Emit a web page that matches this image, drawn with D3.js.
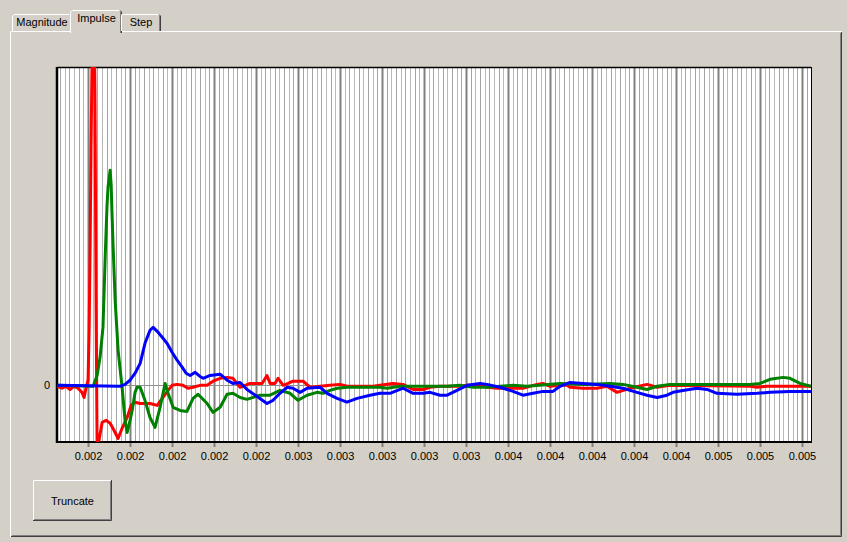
<!DOCTYPE html>
<html>
<head>
<meta charset="utf-8">
<script src="https://cdnjs.cloudflare.com/ajax/libs/d3/7.8.5/d3.min.js"></script>
<style>
body { margin: 0; background: #d4d0c8; }
svg { display: block; font-family: "Liberation Sans", Arial, sans-serif; font-size: 11px; }
</style>
</head>
<body>
<script>
// time in ms, values in arbitrary units
var tabNames = ["Magnitude", "Impulse", "Step"];
var tickTimes = [1.6, 1.8, 2.0, 2.2, 2.4, 2.6, 2.8, 3.0, 3.2, 3.4, 3.6, 3.8, 4.0, 4.2, 4.4, 4.6, 4.8, 5.0];
var tickLabels = ["0.002", "0.002", "0.002", "0.002", "0.002", "0.003", "0.003", "0.003", "0.003", "0.003",
    "0.004", "0.004", "0.004", "0.004", "0.004", "0.005", "0.005", "0.005"];

var redT = [1.452, 1.476, 1.495, 1.514, 1.533, 1.552, 1.571, 1.581, 1.590, 1.600, 1.605, 1.610, 1.614, 1.619, 1.624, 1.629, 1.633, 1.638, 1.643,
    1.652, 1.667, 1.686, 1.705, 1.724, 1.743, 1.762, 1.786, 1.805, 1.824, 1.848, 1.895, 1.929, 1.957, 1.981, 2.000, 2.024, 2.052, 2.076, 2.100,
    2.133, 2.167, 2.195, 2.229, 2.262, 2.290, 2.324, 2.348, 2.371, 2.405, 2.429, 2.452, 2.467, 2.490, 2.505, 2.529, 2.552, 2.576, 2.624, 2.657,
    2.752, 2.800, 2.833, 2.957, 2.990, 3.052, 3.100, 3.148, 3.195, 3.229, 3.276, 3.371, 3.405, 3.467, 3.500, 3.548, 3.610, 3.671, 3.738, 3.767,
    3.800, 3.848, 3.881, 3.895, 3.957, 4.024, 4.071, 4.119, 4.181, 4.262, 4.310, 4.371, 4.752, 4.786, 4.833, 5.043];
var redV = [-0.003, -0.009, -0.003, -0.013, -0.003, -0.009, -0.022, -0.038, -0.009, 0.016, 0.173, 0.456, 0.739, 1.02, 1.21, 1.21, 0.896, 0.267, -0.189,
    -0.173, -0.116, -0.110, -0.119, -0.142, -0.167, -0.135, -0.101, -0.063, -0.053, -0.057, -0.057, -0.063, -0.038, -0.016, 0, 0.003, 0, -0.009, -0.006,
    0, 0, 0.013, 0.022, 0.025, 0.022, -0.006, 0, 0.006, 0.006, 0.006, 0.031, 0.006, 0.006, 0.022, 0, 0.006, 0.013, 0.013, -0.006,
    0, 0.003, -0.003, -0.003, 0, 0.006, 0.003, -0.013, -0.013, -0.006, -0.003, -0.003, 0, 0, -0.006, -0.009, -0.009, -0.009, 0.003, 0.006,
    -0.003, 0, 0, -0.006, -0.009, -0.009, -0.003, -0.022, -0.009, 0.003, -0.006, 0, -0.003, -0.006, -0.003, -0.003];

var greenT = [1.452, 1.624, 1.643, 1.657, 1.671, 1.681, 1.690, 1.695, 1.705, 1.710, 1.714, 1.719, 1.729, 1.743, 1.762, 1.776, 1.786, 1.800,
    1.810, 1.824, 1.833, 1.848, 1.871, 1.895, 1.919, 1.943, 1.967, 1.981, 2.005, 2.038, 2.071, 2.100, 2.124, 2.167, 2.195, 2.229, 2.262, 2.290,
    2.324, 2.357, 2.386, 2.419, 2.467, 2.514, 2.562, 2.600, 2.643, 2.690, 2.719, 2.752, 2.786, 2.833, 2.990, 3.024, 3.086, 3.310, 3.371, 3.433,
    3.500, 3.562, 3.624, 3.690, 3.752, 3.848, 3.957, 4.086, 4.148, 4.214, 4.262, 4.310, 4.371, 4.752, 4.800, 4.848, 4.910, 4.943, 4.991, 5.043];
var greenV = [0, -0.003, 0.031, 0.088, 0.182, 0.393, 0.560, 0.623, 0.676, 0.629, 0.541, 0.440, 0.267, 0.110, -0.006, -0.110, -0.148, -0.110,
    -0.079, -0.022, -0.006, -0.006, -0.047, -0.101, -0.132, -0.069, 0.006, -0.025, -0.069, -0.079, -0.082, -0.041, -0.028, -0.057, -0.085, -0.069, -0.028, -0.025,
    -0.038, -0.044, -0.038, -0.031, -0.031, -0.016, -0.025, -0.047, -0.031, -0.022, -0.025, -0.016, -0.009, -0.006, -0.006, -0.009, -0.003, -0.003, 0, -0.006,
    -0.006, -0.003, 0, -0.003, 0, 0.006, 0.003, 0.006, 0.003, -0.006, -0.013, -0.003, 0.003, 0.003, 0.006, 0.019, 0.025, 0.022, 0.006, -0.003];

var blueT = [1.452, 1.752, 1.776, 1.800, 1.824, 1.848, 1.871, 1.895, 1.910, 1.933, 1.957, 1.976, 2.000, 2.024, 2.048, 2.067, 2.086, 2.110,
    2.133, 2.148, 2.181, 2.229, 2.262, 2.290, 2.324, 2.357, 2.405, 2.452, 2.481, 2.514, 2.548, 2.576, 2.610, 2.643, 2.705, 2.738, 2.786, 2.833,
    2.881, 2.943, 2.990, 3.038, 3.100, 3.148, 3.195, 3.229, 3.276, 3.310, 3.357, 3.405, 3.467, 3.500, 3.562, 3.624, 3.671, 3.719, 3.767, 3.814,
    3.848, 3.895, 3.957, 4.024, 4.086, 4.148, 4.214, 4.262, 4.310, 4.357, 4.386, 4.433, 4.500, 4.548, 4.595, 4.690, 4.786, 4.848, 4.943, 5.043];
var blueV = [0, -0.003, 0.003, 0.016, 0.038, 0.069, 0.132, 0.173, 0.182, 0.167, 0.148, 0.132, 0.104, 0.079, 0.057, 0.038, 0.031, 0.041,
    0.028, 0.022, 0.031, 0.035, 0.016, 0.006, 0.009, -0.013, -0.035, -0.057, -0.047, -0.025, -0.006, -0.009, -0.022, -0.009, -0.006, -0.025, -0.041, -0.053,
    -0.041, -0.031, -0.025, -0.025, -0.009, -0.025, -0.025, -0.022, -0.031, -0.031, -0.016, 0, 0.006, 0.003, -0.006, -0.019, -0.031, -0.025, -0.019, -0.019,
    -0.003, 0.009, 0.006, 0.003, -0.003, -0.009, -0.022, -0.031, -0.038, -0.031, -0.022, -0.016, -0.009, -0.013, -0.025, -0.028, -0.025, -0.022, -0.019, -0.019];

var W = 847, H = 542;
var svg = d3.select("body").append("svg").attr("width", W).attr("height", H);

// tab page
var page = { x: 10, y: 31, w: 832, h: 506 };
svg.append("rect").attr("x", 0).attr("y", 0).attr("width", W).attr("height", H).attr("fill", "#d4d0c8");
svg.append("path").attr("d", "M" + (page.x + 0.5) + "," + (page.y + page.h) + "V" + (page.y + 0.5) + "H" + (page.x + page.w))
    .attr("stroke", "#ffffff").attr("fill", "none");
svg.append("path").attr("d", "M" + (page.x + 1) + "," + (page.y + page.h - 0.5) + "H" + (page.x + page.w - 0.5) + "V" + (page.y + 1))
    .attr("stroke", "#404040").attr("fill", "none");
svg.append("path").attr("d", "M" + (page.x + 2) + "," + (page.y + page.h - 1.5) + "H" + (page.x + page.w - 1.5) + "V" + (page.y + 2))
    .attr("stroke", "#808080").attr("fill", "none");

// tabs
var tabs = [{ x0: 12, x1: 72, top: 14 }, { x0: 72, x1: 121, top: 10 }, { x0: 121, x1: 161, top: 14 }];
tabs.forEach(function(t, i) {
    var sel = i === 1;
    var bottom = sel ? page.y + 2 : page.y;
    var x0 = sel ? t.x0 - 2 : t.x0, x1 = sel ? t.x1 + 1 : t.x1;
    svg.append("rect").attr("x", x0).attr("y", t.top).attr("width", x1 - x0).attr("height", bottom - t.top)
        .attr("fill", "#d4d0c8");
    svg.append("path").attr("d", "M" + (x0 + 0.5) + "," + bottom + "V" + (t.top + 2) + "L" + (x0 + 2.5) + "," + (t.top + 0.5) + "H" + (x1 - 2))
        .attr("stroke", "#ffffff").attr("fill", "none");
    svg.append("path").attr("d", "M" + (x1 - 2) + "," + (t.top + 0.5) + "L" + (x1 - 0.5) + "," + (t.top + 2) + "V" + bottom)
        .attr("stroke", "#404040").attr("fill", "none");
    svg.append("path").attr("d", "M" + (x1 - 1.5) + "," + (t.top + 2) + "V" + bottom)
        .attr("stroke", "#808080").attr("fill", "none");
    svg.append("text").attr("x", (t.x0 + t.x1) / 2).attr("y", sel ? 22 : 26).attr("text-anchor", "middle")
        .attr("fill", "#000").text(tabNames[i]);
});

// plot
var plot = { left: 57, top: 67, right: 811, bottom: 442 };
var x = d3.scaleLinear().domain([1.452, 5.043]).range([plot.left, plot.right]);
var y = d3.scaleLinear().domain([-0.178, 1.0]).range([plot.bottom, plot.top]);

svg.append("rect").attr("x", plot.left).attr("y", plot.top).attr("width", plot.right - plot.left)
    .attr("height", plot.bottom - plot.top).attr("fill", "#ffffff");

svg.append("clipPath").attr("id", "clip").append("rect")
    .attr("x", plot.left).attr("y", plot.top).attr("width", plot.right - plot.left).attr("height", plot.bottom - plot.top);

// minor grid, 9 per major step
var minorStep = 0.2 / 9;
var minor = d3.range(-6, 160).map(function(i) { return 1.6 + i * minorStep; })
    .filter(function(t) { return x(t) > plot.left + 1 && x(t) < plot.right - 1; });
svg.append("g").selectAll("line").data(minor).enter().append("line")
    .attr("x1", function(d) { return Math.round(x(d)) + 0.5; })
    .attr("x2", function(d) { return Math.round(x(d)) + 0.5; })
    .attr("y1", plot.top).attr("y2", plot.bottom)
    .attr("stroke", function(d, i) { return i % 2 ? "#b8b8b8" : "#a4a4a4"; })
    .attr("stroke-width", 1);

svg.append("g").selectAll("line").data(tickTimes).enter().append("line")
    .attr("x1", function(d) { return Math.round(x(d)) + 0.5; })
    .attr("x2", function(d) { return Math.round(x(d)) + 0.5; })
    .attr("y1", plot.top).attr("y2", plot.bottom + 5)
    .attr("stroke", "#808080").attr("stroke-width", 2);

// zero line
svg.append("line").attr("x1", plot.left).attr("x2", plot.right)
    .attr("y1", Math.round(y(0)) + 0.5).attr("y2", Math.round(y(0)) + 0.5)
    .attr("stroke", "#909090");

// frame
svg.append("line").attr("x1", plot.left).attr("x2", plot.right).attr("y1", plot.top + 0.5).attr("y2", plot.top + 0.5)
    .attr("stroke", "#000").attr("stroke-width", 1.5);
svg.append("line").attr("x1", plot.right + 0.5).attr("x2", plot.right + 0.5).attr("y1", plot.top).attr("y2", plot.bottom)
    .attr("stroke", "#000");
svg.append("line").attr("x1", plot.left).attr("x2", plot.left).attr("y1", plot.top).attr("y2", plot.bottom + 1)
    .attr("stroke", "#000").attr("stroke-width", 2.5);
svg.append("line").attr("x1", plot.left).attr("x2", plot.right + 1).attr("y1", plot.bottom).attr("y2", plot.bottom)
    .attr("stroke", "#000").attr("stroke-width", 2);

// series
var line = d3.line().x(function(d) { return x(d[0]); }).y(function(d) { return y(d[1]); });
var series = [
    { t: redT, v: redV, color: "#ff0000" },
    { t: greenT, v: greenV, color: "#008000" },
    { t: blueT, v: blueV, color: "#0000ff" }
];
var lines = svg.append("g").attr("clip-path", "url(#clip)");
series.forEach(function(s) {
    lines.append("path")
        .datum(d3.zip(s.t, s.v))
        .attr("d", line)
        .attr("fill", "none")
        .attr("stroke", s.color)
        .attr("stroke-width", 3)
        .attr("stroke-linejoin", "round");
});

// axis labels
var xAxis = d3.axisBottom(x).tickValues(tickTimes).tickSize(0).tickPadding(10)
    .tickFormat(function(d, i) { return tickLabels[i]; });
var gx = svg.append("g").attr("transform", "translate(0," + plot.bottom + ")").call(xAxis);
gx.select(".domain").remove();
gx.selectAll("text").attr("fill", "#000").style("font-family", "Liberation Sans, Arial, sans-serif").style("font-size", "11px");

svg.append("text").attr("x", 50).attr("y", y(0) + 4).attr("text-anchor", "end").attr("fill", "#000").text("0");

// button
var btn = { x: 33, y: 480, w: 79, h: 41 };
svg.append("rect").attr("x", btn.x).attr("y", btn.y).attr("width", btn.w).attr("height", btn.h).attr("fill", "#d4d0c8");
svg.append("path").attr("d", "M" + (btn.x + 0.5) + "," + (btn.y + btn.h) + "V" + (btn.y + 0.5) + "H" + (btn.x + btn.w))
    .attr("stroke", "#ffffff").attr("fill", "none");
svg.append("path").attr("d", "M" + (btn.x) + "," + (btn.y + btn.h - 0.5) + "H" + (btn.x + btn.w - 0.5) + "V" + btn.y)
    .attr("stroke", "#404040").attr("fill", "none");
svg.append("path").attr("d", "M" + (btn.x + 1) + "," + (btn.y + btn.h - 1.5) + "H" + (btn.x + btn.w - 1.5) + "V" + (btn.y + 1))
    .attr("stroke", "#808080").attr("fill", "none");
svg.append("text").attr("x", btn.x + btn.w / 2).attr("y", btn.y + btn.h / 2 + 4).attr("text-anchor", "middle")
    .attr("fill", "#000").text("Truncate");
</script>
</body>
</html>
